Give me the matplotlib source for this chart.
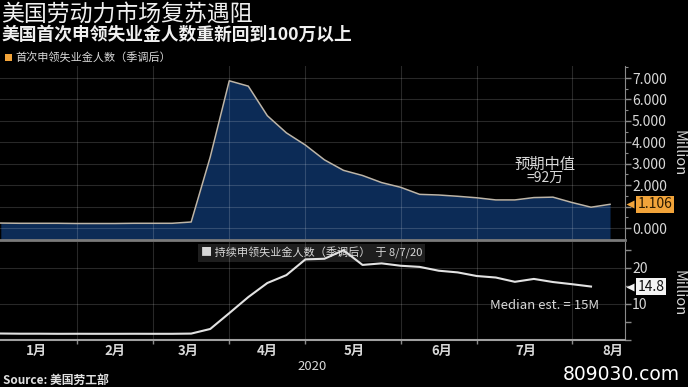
import matplotlib
matplotlib.use("Agg")
import matplotlib.pyplot as plt
import matplotlib.dates as mdates
import matplotlib.transforms as mtransforms
from matplotlib.patches import Rectangle
import pandas as pd

plt.rcParams['font.family'] = ['Noto Sans CJK SC', 'DejaVu Sans']

# weekly data, week ending Saturday (millions)
initial_dates = pd.date_range("2020-01-04", "2020-08-15", freq="W-SAT")
initial_claims = [0.23, 0.22, 0.22, 0.22, 0.21, 0.21, 0.21, 0.22, 0.22, 0.22,
                  0.28, 3.31, 6.87, 6.62, 5.24, 4.44, 3.87, 3.18, 2.69, 2.45,
                  2.12, 1.90, 1.57, 1.54, 1.48, 1.41, 1.31, 1.31, 1.42, 1.44,
                  1.19, 0.97, 1.106]

cont_dates = pd.date_range("2020-01-04", "2020-08-08", freq="W-SAT")
cont_claims = [1.80, 1.75, 1.75, 1.72, 1.73, 1.72, 1.72, 1.73, 1.72, 1.72,
               1.78, 3.06, 7.45, 11.91, 15.82, 18.01, 22.38, 22.55, 24.91, 20.84,
               21.27, 20.61, 20.29, 19.23, 18.76, 17.76, 17.34, 16.15, 16.95, 16.09,
               15.49, 14.84]

grid_dates = ["2020-02-01", "2020-02-29", "2020-03-28", "2020-04-25",
              "2020-05-30", "2020-06-27", "2020-08-01"]
month_pos = ["2020-01-17", "2020-02-15", "2020-03-13", "2020-04-11",
             "2020-05-13", "2020-06-14", "2020-07-15", "2020-08-16"]
month_labels = ["1月", "2月", "3月", "4月", "5月", "6月", "7月", "8月"]

top_ticks = [0, 1, 2, 3, 4, 5, 6, 7]
top_labels = ["0.000", "", "2.000", "3.000", "4.000", "5.000", "6.000", "7.000"]
bottom_ticks = [0, 5, 10, 15, 20, 25]
bottom_labels = ["", "", "10", "", "20", ""]

W, H = 688, 387
bg = "black"
txt = "#d8d8d8"
axis_grey = "#8a8a8a"
grid_col = "#ffffff"

fig = plt.figure(figsize=(W / 100, H / 100), dpi=100, facecolor=bg)


def fx(px):
    return px / W


def fy(py):
    return 1 - py / H


ax1 = fig.add_axes([0, fy(240), fx(625), 174 / H], facecolor=bg)
ax2 = fig.add_axes([0, fy(340), fx(625), 98 / H], facecolor=bg)

xmin = mdates.date2num(pd.Timestamp("2020-01-03 17:00"))
xmax = mdates.date2num(pd.Timestamp("2020-08-20 12:00"))
grid_x = [mdates.date2num(pd.Timestamp(d)) for d in grid_dates]


def last_value_tag(ax, value, label, face, fg):
    blend = mtransforms.blended_transform_factory(ax.transAxes, ax.transData)
    ax.plot([1.008], [value], marker="<", ms=6, color=face, mec="none",
            transform=blend, clip_on=False, zorder=6)
    ax.text(1.02, value, label, transform=blend, fontsize=10, color=fg,
            va="center", ha="left", clip_on=False, zorder=6,
            bbox=dict(boxstyle="square,pad=0.12", fc=face, ec="none"))


# ---- top panel: initial claims
y1_bot, y1_top = -0.56, 7.56
ax1.fill_between(initial_dates, initial_claims, y1_bot, color="#0c2b56", lw=0, zorder=1)
ax1.plot(initial_dates, initial_claims, color="#bdb5a8", lw=1.1, zorder=4)
for g in grid_x:
    ax1.axvline(g, color=grid_col, alpha=0.16, lw=0.8, zorder=2)
for t in top_ticks:
    ax1.axhline(t, color=grid_col, alpha=0.16, lw=0.8, zorder=2)
ax1.set_xlim(xmin, xmax)
ax1.set_ylim(y1_bot, y1_top)
ax1.yaxis.tick_right()
ax1.set_yticks(top_ticks)
ax1.set_yticklabels(top_labels)
ax1.set_yticks([t + 0.5 for t in top_ticks], minor=True)
ax1.tick_params(axis="y", which="major", colors=axis_grey, labelcolor=txt,
                labelsize=10, length=4, width=1, pad=1)
ax1.tick_params(axis="y", which="minor", colors=axis_grey, length=2, width=0.8)
ax1.set_xticks([])
for s in ["left", "top"]:
    ax1.spines[s].set_visible(False)
ax1.spines["right"].set_color(axis_grey)
ax1.spines["bottom"].set_color("#7a7a7a")
ax1.spines["bottom"].set_linewidth(2)

last_value_tag(ax1, initial_claims[-1], f"{initial_claims[-1]:.3f}", "#f2a43a", "#2b1a00")

ax1.text(mdates.date2num(pd.Timestamp("2020-07-22")), 2.99, "预期中值",
         color=txt, fontsize=11, ha="center", va="center")
ax1.text(mdates.date2num(pd.Timestamp("2020-07-22")), 2.33, "=92万",
         color=txt, fontsize=10, ha="center", va="center")

# ---- bottom panel: continuing claims
ax2.plot(cont_dates, cont_claims, color="#e2e2e2", lw=1.5, zorder=4)
for g in grid_x:
    ax2.axvline(g, color=grid_col, alpha=0.16, lw=0.8, zorder=2)
for t in [10, 20]:
    ax2.axhline(t, color=grid_col, alpha=0.16, lw=0.8, zorder=2)
ax2.set_xlim(xmin, xmax)
ax2.set_ylim(0, 27.2)
ax2.yaxis.tick_right()
ax2.set_yticks(bottom_ticks)
ax2.set_yticklabels(bottom_labels)
ax2.tick_params(axis="y", colors=axis_grey, labelcolor=txt, labelsize=10,
                length=4, width=1, pad=1)
ax2.set_xticks(grid_x)
ax2.set_xticklabels([])
ax2.set_xticks([mdates.date2num(pd.Timestamp(d)) for d in month_pos], minor=True)
ax2.set_xticklabels(month_labels, minor=True)
ax2.tick_params(axis="x", which="major", colors=axis_grey, length=3, width=1)
ax2.tick_params(axis="x", which="minor", length=0, labelcolor=txt, labelsize=9.5, pad=3)
for lab in ax2.get_xticklabels(minor=True):
    lab.set_fontweight("bold")
for s in ["left", "top"]:
    ax2.spines[s].set_visible(False)
ax2.spines["right"].set_color(axis_grey)
ax2.spines["bottom"].set_color("#a0a0a0")
ax2.spines["bottom"].set_linewidth(1.5)

last_value_tag(ax2, cont_claims[-1], f"{cont_claims[-1]:.1f}", "#f4f4f4", "#111111")

blend2 = mtransforms.blended_transform_factory(ax2.transAxes, ax2.transData)
ax2.text(mdates.date2num(pd.Timestamp("2020-07-22")), 9.7, "Median est. = 15M",
         color=txt, fontsize=9.5, ha="center", va="center")
ax2.text(fx(201) / fx(625), 24.2, "■ 持续申领失业金人数（季调后）  于 8/7/20",
         transform=blend2, color=txt, fontsize=8, ha="left", va="center", zorder=1,
         bbox=dict(boxstyle="square,pad=0.25", fc="#1e1e1e", ec="none"))

# ---- header / footer text
fig.text(fx(1), fy(14), "美国劳动力市场复苏遇阻", color="#f0f0f0", fontsize=16.5,
         ha="left", va="center")
fig.text(fx(1), fy(35), "美国首次申领失业金人数重新回到100万以上", color="#f0f0f0",
         fontsize=12.8, fontweight="bold", ha="left", va="center")
fig.add_artist(Rectangle((fx(5), fy(61)), 7 / W, 7 / H, transform=fig.transFigure,
                         fc="#f2a43a", ec="none"))
fig.text(fx(15), fy(57.5), "首次申领失业金人数（季调后）", color=txt, fontsize=8,
         ha="left", va="center")
fig.text(fx(678), fy(153), "Million", color=txt, fontsize=10.5, rotation=270,
         ha="center", va="center")
fig.text(fx(678), fy(293), "Million", color=txt, fontsize=10.5, rotation=270,
         ha="center", va="center")
fig.text(fx(312), fy(366), "2020", color=txt, fontsize=9.5, ha="center", va="center")
fig.text(fx(3), fy(380), "Source: 美国劳工部", color="#e0e0e0", fontsize=8.5,
         fontweight="bold", ha="left", va="center")
fig.text(fx(621), fy(375), "809030.com", color="white", fontsize=13.5,
         family="DejaVu Sans", ha="center", va="center")

fig.savefig("out.png", dpi=100, facecolor=bg)
